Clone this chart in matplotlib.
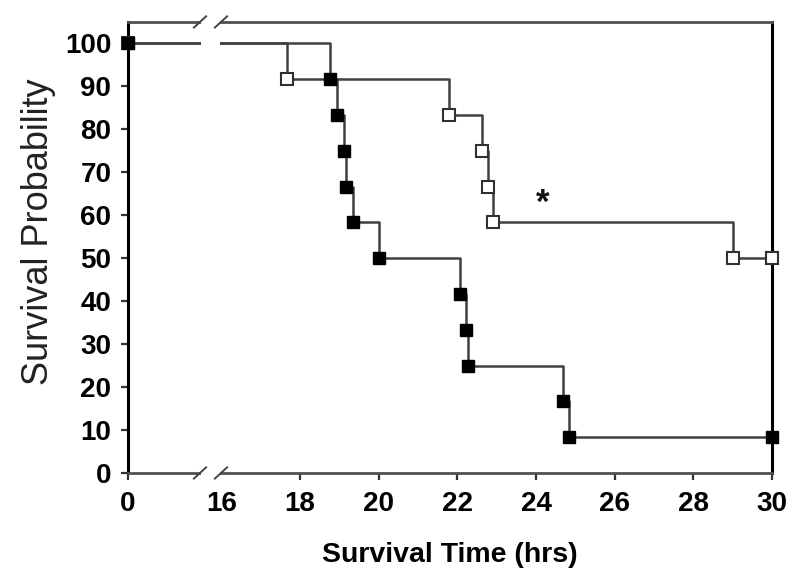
import matplotlib
matplotlib.use('Agg')
import matplotlib.pyplot as plt
import numpy as np
from matplotlib.patches import Rectangle

plt.rcParams['font.family'] = ['Liberation Sans', 'DejaVu Sans']

# ---- data ----
filled_times = [0, 18.77, 18.93, 19.13, 19.16, 19.36, 20.02, 22.06, 22.23, 22.28, 24.70, 24.85, 30]
filled_surv = [100, 91.67, 83.33, 75.0, 66.67, 58.33, 50.0, 41.67, 33.33, 25.0, 16.67, 8.33, 8.33]
open_times = [0, 17.68, 21.80, 22.62, 22.77, 22.90, 29.0, 30]
open_surv = [100, 91.67, 83.33, 75.0, 66.67, 58.33, 50.0, 50.0]
x_ticks = [0, 16, 18, 20, 22, 24, 26, 28, 30]
y_ticks = [0, 10, 20, 30, 40, 50, 60, 70, 80, 90, 100]
star_pos = (24.17, 62.8)

# broken axis: 0..16 compressed
BRK = 16.0
SPAN = 2.37


def fwd(t):
    t = np.asarray(t, float)
    return np.where(t >= BRK, t, BRK - SPAN + t * SPAN / BRK)


def inv(u):
    u = np.asarray(u, float)
    return np.where(u >= BRK, u, (u - (BRK - SPAN)) * BRK / SPAN)


fig = plt.figure(figsize=(8, 5.85), dpi=100)
ax = fig.add_axes([0.16, 0.1915, 0.805, 0.771])
ax.set_xscale('function', functions=(fwd, inv))
ax.set_xlim(0, 30)
ax.set_ylim(0, 105)

line_col = '#404040'
ax.plot(open_times, open_surv, drawstyle='steps-post', color=line_col, lw=1.8,
        marker='s', markersize=8.5, markerfacecolor='white', markeredgecolor='#303030',
        markeredgewidth=1.5, zorder=3, clip_on=False)
ax.plot(filled_times, filled_surv, drawstyle='steps-post', color=line_col, lw=1.8,
        marker='s', markersize=8.5, markerfacecolor='black', markeredgecolor='black',
        zorder=4, clip_on=False)

ax.text(star_pos[0], star_pos[1], '*', fontsize=25, fontweight='bold',
        ha='center', va='center', color='#111111')

# spines
for s in ['left', 'right']:
    ax.spines[s].set_color('black')
    ax.spines[s].set_linewidth(2.2)
for s in ['top', 'bottom']:
    ax.spines[s].set_color('#505050')
    ax.spines[s].set_linewidth(2.0)

ax.set_xticks(x_ticks)
ax.set_xticklabels([str(v) for v in x_ticks])
ax.set_yticks(y_ticks)
ax.set_yticklabels([str(v) for v in y_ticks])
ax.tick_params(axis='both', direction='out', length=5, width=1.6, color='#333333',
               labelsize=20, pad=8)
ax.tick_params(axis='y', pad=7)
for lbl in ax.get_xticklabels() + ax.get_yticklabels():
    lbl.set_fontweight('bold')
ax.xaxis.get_major_ticks()[1].tick1line.set_visible(False)

ax.set_xlabel('Survival Time (hrs)', fontsize=20.5, fontweight='bold', labelpad=18)
ax.set_ylabel('Survival Probability', fontsize=26, color='#222222')
ax.yaxis.set_label_coords(-0.112, 0.535)

# break marks
bt = ax.transAxes
x1, x2 = 0.1118, 0.1444
ax.add_patch(Rectangle((x1 + 0.002, -0.02), x2 - x1 - 0.004, 1.04, transform=bt,
                       facecolor='white', edgecolor='none', zorder=10, clip_on=False))
dx, dy = 0.0095, 0.0125
for xc in (x1, x2):
    for yc in (0.0, 1.0):
        ax.plot([xc - dx, xc + dx], [yc - dy, yc + dy], transform=bt, color='#444444',
                lw=1.4, zorder=11, clip_on=False)

fig.savefig('out.png', dpi=100)
